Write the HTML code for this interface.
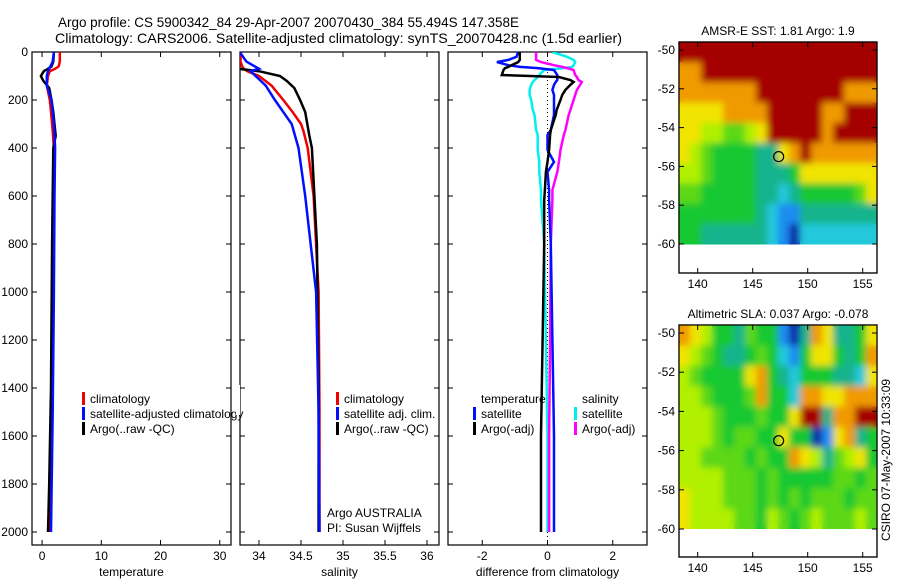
<!DOCTYPE html>
<html><head><meta charset="utf-8"><style>
html,body{margin:0;padding:0;background:#fff}
svg{display:block;font-family:"Liberation Sans",sans-serif}
</style></head><body>
<svg id="fig" width="900" height="580" viewBox="0 0 900 580" xmlns="http://www.w3.org/2000/svg">
<defs>
<filter id="blur" x="0" y="0" width="1" height="1"><feGaussianBlur stdDeviation="3.5"/></filter>
<clipPath id="clipSST"><rect x="679" y="42" width="198" height="203"/></clipPath>
<clipPath id="clipSLA"><rect x="679" y="325" width="198" height="204"/></clipPath>
<clipPath id="clipP1"><rect x="32" y="52" width="199" height="493"/></clipPath>
<clipPath id="clipP2"><rect x="240" y="52" width="199" height="493"/></clipPath>
<clipPath id="clipP3"><rect x="448" y="52" width="199" height="493"/></clipPath>
</defs>
<text x="58" y="27" font-size="13.5" textLength="461" lengthAdjust="spacingAndGlyphs">Argo profile: CS 5900342_84 29-Apr-2007 20070430_384 55.494S 147.358E</text>
<text x="55" y="43" font-size="14" textLength="567" lengthAdjust="spacingAndGlyphs">Climatology: CARS2006. Satellite-adjusted climatology: synTS_20070428.nc (1.5d earlier)</text>
<text transform="translate(890,460) rotate(-90)" font-size="12" text-anchor="middle">CSIRO 07-May-2007 10:33:09</text>
<g id="plots"></g>
</svg>
<script>
// ---- profile data ----
const depthsRed = [0,40,60,70,80,100,140,200,250,300,330,400,600,1000,1500,2000];
const tempClim = [3.0,3.0,2.8,2.2,1.3,1.0,0.8,1.3,1.5,1.7,1.8,2.0,2.0,1.9,1.6,1.2];
const depthsBlue = [0,40,60,70,80,100,140,200,300,400,600,1000,1500,2000];
const tempSat = [2.0,1.8,1.4,1.2,1.0,0.8,0.8,1.6,2.0,2.2,2.1,2.0,1.8,1.5];
const depthsBlack = [0,40,60,70,80,100,120,150,200,250,350,400,800,1400,1800,2000];
const tempArgo = [2.0,1.9,1.6,1.0,0.3,-0.2,0.2,1.2,1.6,1.9,2.3,1.9,1.7,1.5,1.2,1.0];
const salClim = [33.78,33.78,33.8,33.82,33.86,34.0,34.15,34.29,34.4,34.5,34.53,34.58,34.65,34.71,34.72,34.72];
const salSat = [33.77,33.85,33.95,34.0,33.9,33.96,34.08,34.19,34.39,34.47,34.55,34.68,34.71,34.72];
const salArgo = [33.7,33.72,33.74,33.76,34.0,34.25,34.33,34.42,34.49,34.55,34.6,34.63,34.69,34.71,34.71,34.71];
const diffDepths = [0,20,33,42,55,62,67,75,96,104,117,125,137,158,179,200,242,262,325,346,408,458,500,575,617,800,1200,1600,2000];
const diffTSat = [-0.9,-0.95,-1.2,-1.55,-1.2,-0.85,-0.3,0.2,0.3,0.3,0.3,0.25,0.2,0.15,0.2,0.2,0.2,0.2,0.1,0.0,0.0,0.2,0.0,0.05,0.05,0.1,0.15,0.2,0.2];
const diffTArgo = [-0.85,-0.85,-0.85,-0.9,-1.1,-1.2,-1.3,-1.35,-1.4,0.35,0.7,0.8,0.7,0.55,0.45,0.4,0.28,0.25,0.1,0.08,0.05,0.0,-0.05,-0.08,-0.1,-0.1,-0.15,-0.2,-0.2];
const diffSSat = [0.15,0.6,0.8,0.85,0.8,0.75,0.5,-0.1,-0.25,-0.3,-0.4,-0.45,-0.5,-0.55,-0.55,-0.5,-0.45,-0.4,-0.35,-0.3,-0.3,-0.25,-0.25,-0.2,-0.2,-0.1,-0.05,0.0,0.0];
const diffSArgo = [-0.35,-0.35,-0.35,-0.2,0.2,0.45,0.6,0.8,0.85,0.9,0.95,1.05,1.0,0.9,0.85,0.8,0.7,0.65,0.55,0.5,0.4,0.35,0.3,0.15,0.15,0.1,0.08,0.05,0.05];
const depthTicks = [0,200,400,600,800,1000,1200,1400,1600,1800,2000];
const tempTicks = [0,10,20,30];
const salTicks = [34,34.5,35,35.5,36];
const diffTicks = [-2,0,2];
// ---- map data (levels 0..9, 1-degree cells from lon 138.3, lat -49.6 downward) ----
const sstGrid = [
"999999999999999999",
"889999999999999999",
"888888899999999888",
"777788889999988999",
"776655679999989999",
"765444433789888888",
"665444433347777777",
"554444433234444457",
"444444432113333333",
"443333332102222222"];
const slaGrid = [
"876443544103873347",
"765433454214774348",
"654444784324443327",
"665444584428877888",
"666544454479938899",
"666545544744017834",
"665555454487635674",
"666655545444445545",
"766655545454555455",
"766665546545655565"];
const levelColors = ["#0c2aa8","#1a8cf0","#20c8dc","#12b48c","#18c832","#5cd818","#b0f000","#f0e400","#f09a00","#a50000"];
const lonTicks = [140,145,150,155];
const latTicks = [-50,-52,-54,-56,-58,-60];
const argoLon = 147.358, argoLat = -55.494;

const NS="http://www.w3.org/2000/svg";
const root=document.getElementById('plots');
function mk(tag,attrs,parent){const e=document.createElementNS(NS,tag);for(const k in attrs)e.setAttribute(k,attrs[k]);(parent||root).appendChild(e);return e;}
const yTop=52,yBot=545;
function yD(d){return 52+d*0.24;}
function lin(d0,d1,r0,r1){return v=>r0+(v-d0)*(r1-r0)/(d1-d0);}
const panels=[
 {x0:32,x1:231,sx:lin(-1.7,31.9,32,231),ticks:tempTicks,label:'temperature',clip:'clipP1',name:'temperature'},
 {x0:240,x1:439,sx:lin(33.774,36.143,240,439),ticks:salTicks,label:'salinity',clip:'clipP2',name:'salinity'},
 {x0:448,x1:647,sx:lin(-3.05,3.05,448,647),ticks:diffTicks,label:'difference from climatology',clip:'clipP3',name:'difference'}];
panels.forEach((p,i)=>{
 const g=mk('g',{});
 
 
 const fr=mk('rect',{x:p.x0,y:yTop,width:p.x1-p.x0,height:yBot-yTop,fill:'#fff',stroke:'#000','stroke-width':1.2},g);
 
 
 depthTicks.forEach(d=>{
  const y=yD(d);
  mk('line',{x1:p.x0,x2:p.x0+5,y1:y,y2:y,stroke:'#000'},g);
  mk('line',{x1:p.x1-5,x2:p.x1,y1:y,y2:y,stroke:'#000'},g);
  if(i===0){const t=mk('text',{x:p.x0-4,y:y+4,'font-size':12,'text-anchor':'end'},g);t.textContent=d;
   
   }
 });
 p.ticks.forEach(v=>{
  const x=p.sx(v);
  mk('line',{x1:x,x2:x,y1:yBot,y2:yBot-5,stroke:'#000'},g);
  mk('line',{x1:x,x2:x,y1:yTop,y2:yTop+5,stroke:'#000'},g);
  const t=mk('text',{x:x,y:yBot+15,'font-size':12,'text-anchor':'middle'},g);t.textContent=v;
  
  
 });
 const xl=mk('text',{x:(p.x0+p.x1)/2,y:576,'font-size':12,'text-anchor':'middle'},g);xl.textContent=p.label;
 
 
});
function line(p,depths,vals,color,name,w){
 const pts=depths.map((d,i)=>p.sx(vals[i]).toFixed(1)+','+yD(d).toFixed(1)).join(' ');
 const l=mk('polyline',{points:pts,fill:'none',stroke:color,'stroke-width':w||2.5,'clip-path':'url(#'+p.clip+')'});
 
 
}
const P1=panels[0],P2=panels[1],P3=panels[2];
line(P1,depthsRed,tempClim,'#f00000','temp-climatology-line');
line(P1,depthsBlack,tempArgo,'#000','temp-argo-line');
line(P1,depthsBlue,tempSat,'#0010ff','temp-satellite-line');
line(P2,depthsRed,salClim,'#f00000','sal-climatology-line');
line(P2,depthsBlack,salArgo,'#000','sal-argo-line');
line(P2,depthsBlue,salSat,'#0010ff','sal-satellite-line');
const zl=mk('line',{x1:P3.sx(0),x2:P3.sx(0),y1:yTop,y2:yBot,stroke:'#000','stroke-dasharray':'1,3'});


line(P3,diffDepths,diffSSat,'#00f0f0','diff-sal-satellite-line');
line(P3,diffDepths,diffSArgo,'#ff00ff','diff-sal-argo-line');
line(P3,diffDepths,diffTSat,'#0010ff','diff-temp-satellite-line');
line(P3,diffDepths,diffTArgo,'#000','diff-temp-argo-line');
function legend(x,y,items){
 items.forEach((it,i)=>{
  const yy=y+i*15;
  if(it.c){const b=mk('rect',{x:x,y:yy-10,width:3,height:13,fill:it.c});
   
   }
  const t=mk('text',{x:x+8,y:yy+1,'font-size':12});t.textContent=it.t;
  
  
 });
}
legend(82,402,[{c:'#f00000',t:'climatology'},{c:'#0010ff',t:'satellite-adjusted climatology'},{c:'#000',t:'Argo(..raw -QC)'}]);
mk('rect',{x:236,y:385,width:4,height:30,fill:'#fff'});
legend(336,402,[{c:'#f00000',t:'climatology'},{c:'#0010ff',t:'satellite adj. clim.'},{c:'#000',t:'Argo(..raw -QC)'}]);
legend(473,402,[{c:null,t:'temperature'},{c:'#0010ff',t:'satellite'},{c:'#000',t:'Argo(-adj)'}]);
legend(574,402,[{c:null,t:'salinity'},{c:'#00f0f0',t:'satellite'},{c:'#ff00ff',t:'Argo(-adj)'}]);
const a1=mk('text',{x:327,y:517,'font-size':12});a1.textContent='Argo AUSTRALIA';


const a2=mk('text',{x:327,y:532,'font-size':12});a2.textContent='PI: Susan Wijffels';


// ---- maps ----
function map(grid,top,bot,lat50y,lat60y,clip,title,name){
 const g=mk('g',{});
 
 
 const sx=lin(138.3,156.3,679,877);
 const syf=lin(-50,-60,lat50y,lat60y);
 mk('rect',{x:679,y:top,width:198,height:bot-top,fill:'#fff',stroke:'#000','stroke-width':1.2},g);
 const rowH=(lat60y-top)/grid.length;
 [false,true].forEach(bl=>{
  const gg=mk('g',bl?{filter:'url(#blur)','clip-path':'url(#'+clip+')'}:{'clip-path':'url(#'+clip+')'},g);
  grid.forEach((row,r)=>{
   for(let c=0;c<row.length;c++){
    const x=sx(138.3+c),y=top+r*rowH;
    const cell=mk('rect',{x:x,y:y,width:sx(139.3)-sx(138.3)+0.5,height:rowH+0.5,fill:levelColors[+row[c]]},gg);
    
    
   }
  });
 });
 mk('rect',{x:679,y:top,width:198,height:bot-top,fill:'none',stroke:'#000','stroke-width':1.2},g);
 latTicks.forEach(v=>{const y=syf(v);
  mk('line',{x1:679,x2:684,y1:y,y2:y,stroke:'#000'},g);mk('line',{x1:872,x2:877,y1:y,y2:y,stroke:'#000'},g);
  const t=mk('text',{x:675,y:y+4,'font-size':12,'text-anchor':'end'},g);t.textContent=v;
  
  });
 lonTicks.forEach(v=>{const x=sx(v);
  mk('line',{x1:x,x2:x,y1:bot,y2:bot-5,stroke:'#000'},g);mk('line',{x1:x,x2:x,y1:top,y2:top+5,stroke:'#000'},g);
  const t=mk('text',{x:x,y:bot+15,'font-size':12,'text-anchor':'middle'},g);t.textContent=v;
  
  });
 const tt=mk('text',{x:778,y:top-7,'font-size':12,'text-anchor':'middle'},g);tt.textContent=title;
 
 
 const m=mk('circle',{cx:sx(argoLon),cy:syf(argoLat),r:5,fill:'none',stroke:'#000','stroke-width':1.2},g);
 
 
}
map(sstGrid,42,273,50,244,'clipSST','AMSR-E SST: 1.81  Argo: 1.9','sst-map');
map(slaGrid,325,557,333,529,'clipSLA','Altimetric SLA: 0.037  Argo: -0.078','sla-map');
</script>
</body></html>
